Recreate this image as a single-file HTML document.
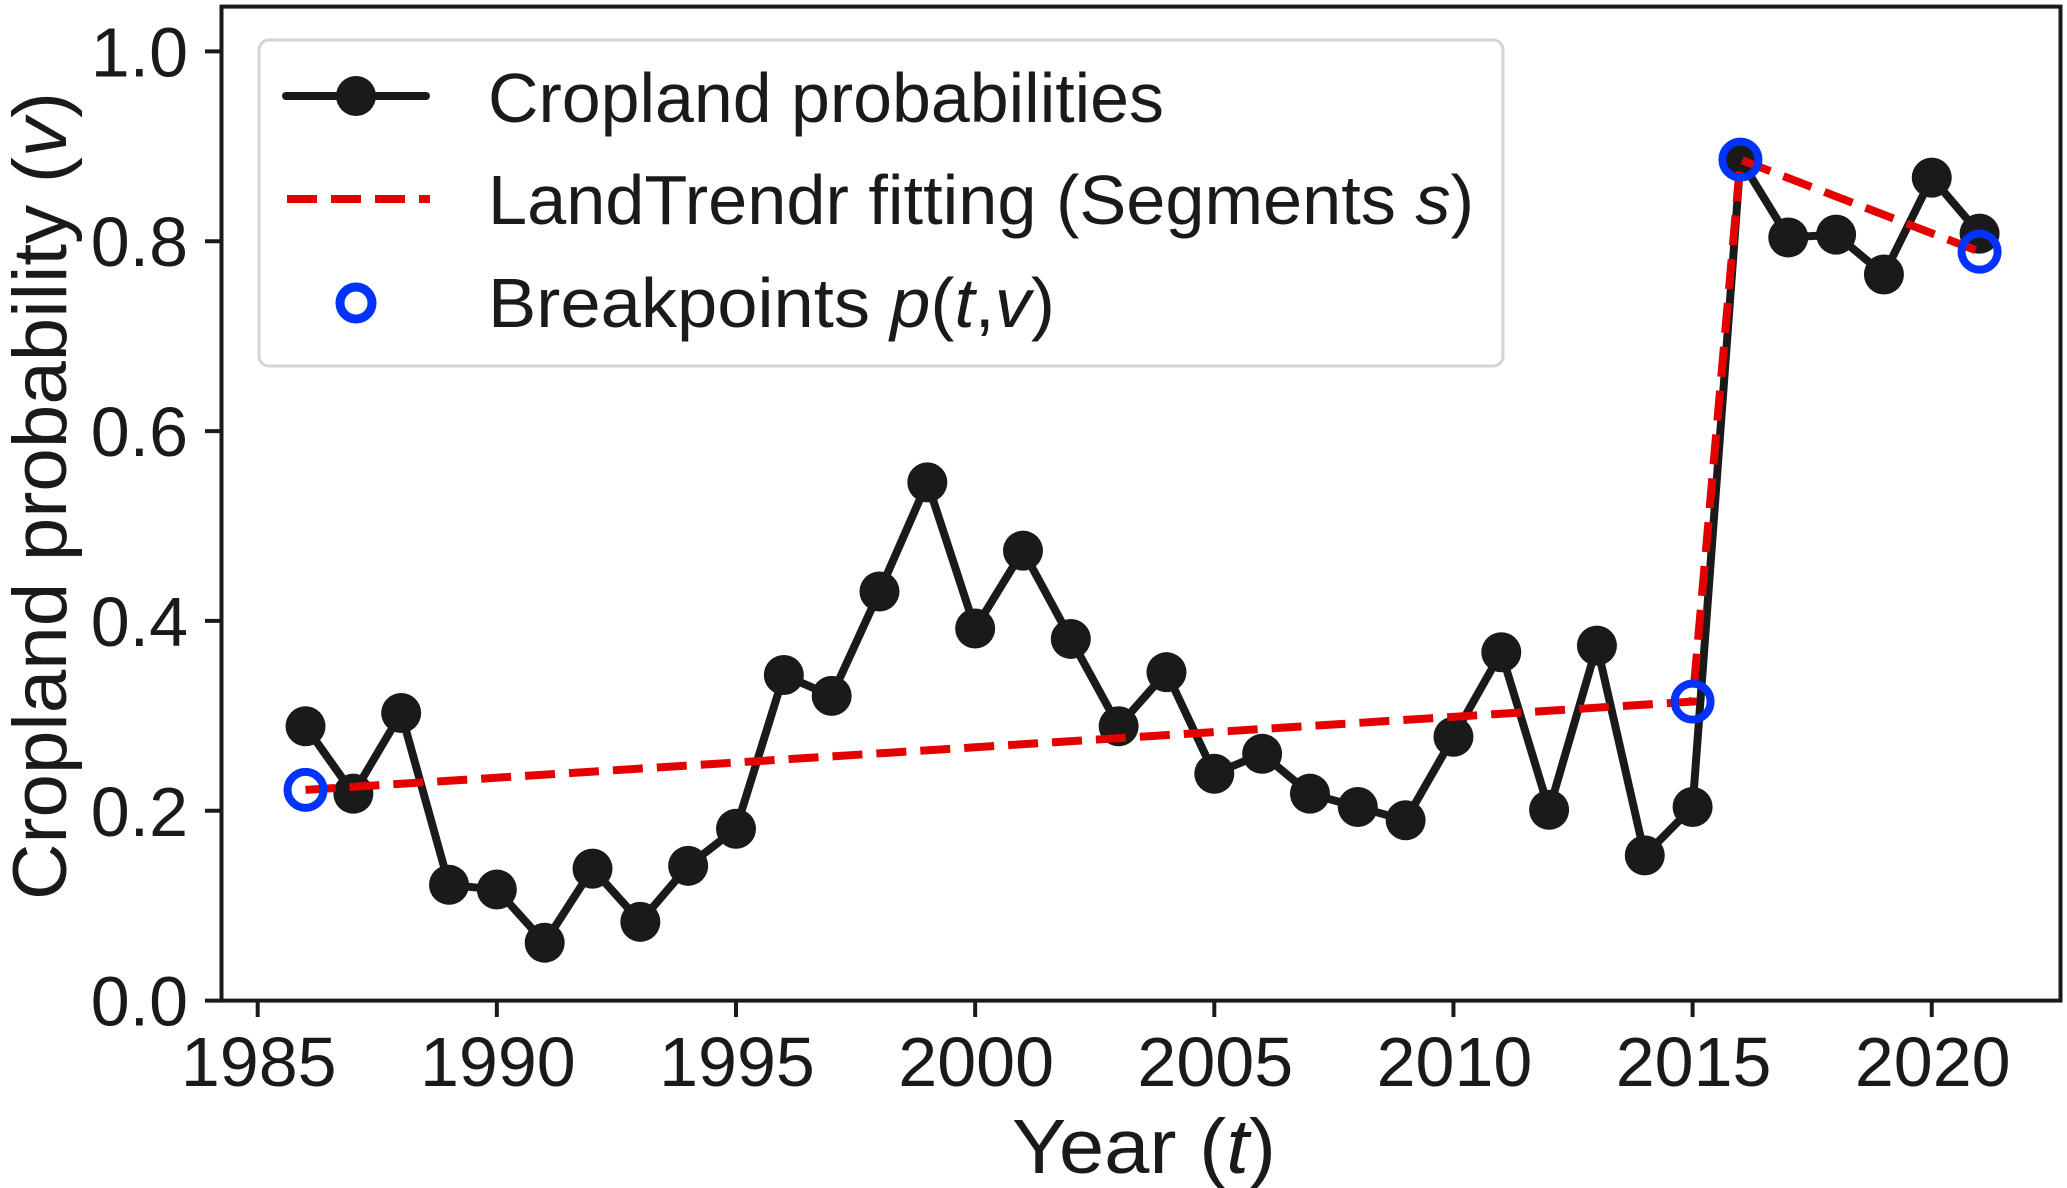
<!DOCTYPE html>
<html><head><meta charset="utf-8"><style>
body{margin:0;background:#fff}
svg{display:block;font-family:"Liberation Sans","DejaVu Sans",sans-serif}
</style></head><body>
<svg id="chart" width="2067" height="1188" viewBox="0 0 2067 1188" xmlns="http://www.w3.org/2000/svg">
<rect x="221.5" y="6.6" width="1839" height="994" fill="none" stroke="#1a1a1a" stroke-width="4"/>
<g id="axes"></g>
<g id="series"></g>
<text transform="translate(66,496) rotate(-90)" text-anchor="middle" font-size="76" textLength="808" lengthAdjust="spacingAndGlyphs" fill="#1a1a1a">Cropland probability (<tspan font-style="italic">v</tspan>)</text>
<text x="1144" y="1173" text-anchor="middle" font-size="77" textLength="264" lengthAdjust="spacingAndGlyphs" fill="#1a1a1a">Year (<tspan font-style="italic">t</tspan>)</text>
<g>
<rect x="259" y="40" width="1244" height="326" rx="10" fill="#fff" stroke="#d4d4d4" stroke-width="3"/>
<g>
<line x1="286" y1="96" x2="426" y2="96" stroke="#1a1a1a" stroke-width="8" stroke-linecap="round"/>
<circle cx="356" cy="96" r="20" fill="#1a1a1a"/>
<text x="488" y="122" font-size="70" textLength="676" lengthAdjust="spacingAndGlyphs" fill="#1a1a1a">Cropland probabilities</text>
</g>
<g>
<line x1="287" y1="199" x2="430" y2="199" stroke="#e50000" stroke-width="8" stroke-dasharray="30,14"/>
<text x="488" y="224" font-size="70" textLength="986" lengthAdjust="spacingAndGlyphs" fill="#1a1a1a">LandTrendr fitting (Segments <tspan font-style="italic">s</tspan>)</text>
</g>
<g>
<circle cx="356" cy="303" r="16" fill="none" stroke="#0033ff" stroke-width="9"/>
<text x="488" y="327" font-size="70" textLength="567" lengthAdjust="spacingAndGlyphs" fill="#1a1a1a">Breakpoints <tspan font-style="italic">p</tspan>(<tspan font-style="italic">t</tspan>,<tspan font-style="italic">v</tspan>)</text>
</g>
</g>
</svg>
<script>
const years=[1986,1987,1988,1989,1990,1991,1992,1993,1994,1995,1996,1997,1998,1999,2000,2001,2002,2003,2004,2005,2006,2007,2008,2009,2010,2011,2012,2013,2014,2015,2016,2017,2018,2019,2020,2021];
const probs=[0.289,0.218,0.303,0.122,0.117,0.061,0.139,0.083,0.142,0.181,0.343,0.321,0.431,0.546,0.392,0.474,0.381,0.289,0.346,0.239,0.26,0.218,0.204,0.19,0.278,0.367,0.201,0.374,0.153,0.204,0.886,0.804,0.807,0.765,0.867,0.808];
const bpYears=[1986,2015,2016,2021];
const bpVals=[0.222,0.315,0.886,0.789];
const xTicks=[1985,1990,1995,2000,2005,2010,2015,2020];
const yTicks=[0.0,0.2,0.4,0.6,0.8,1.0];
const yTickLabels=["0.0","0.2","0.4","0.6","0.8","1.0"];

const NS="http://www.w3.org/2000/svg";
function X(t){return 257.7+(t-1985)*47.83;}
function Y(v){return 1000.6-v*949.2;}
function mk(tag,attrs,parent){const e=document.createElementNS(NS,tag);for(const k in attrs)e.setAttribute(k,attrs[k]);parent.appendChild(e);return e;}
const axes=document.getElementById('axes'),series=document.getElementById('series');
xTicks.forEach(t=>{
  const l=mk('line',{x1:X(t),x2:X(t),y1:1000.6,y2:1017,stroke:'#1a1a1a','stroke-width':4},axes);
  
  
  const tx=mk('text',{x:X(t)+1,y:1086,'text-anchor':'middle','font-size':70,fill:'#1a1a1a'},axes);
  tx.textContent=t;
  
  
});
yTicks.forEach((v,i)=>{
  const l=mk('line',{x1:205,x2:221.5,y1:Y(v),y2:Y(v),stroke:'#1a1a1a','stroke-width':4},axes);
  
  
  const tx=mk('text',{x:188,y:Y(v)+25,'text-anchor':'end','font-size':70,fill:'#1a1a1a'},axes);
  tx.textContent=yTickLabels[i];
  
  
});
const pl=mk('polyline',{points:years.map((t,i)=>X(t)+','+Y(probs[i])).join(' '),fill:'none',stroke:'#1a1a1a','stroke-width':8,'stroke-linejoin':'round'},series);


years.forEach((t,i)=>{
  const c=mk('circle',{cx:X(t),cy:Y(probs[i]),r:20,fill:'#1a1a1a'},series);
  
  
});
const fl=mk('polyline',{points:bpYears.map((t,i)=>X(t)+','+Y(bpVals[i])).join(' '),fill:'none',stroke:'#e50000','stroke-width':8,'stroke-dasharray':'30,14'},series);


bpYears.forEach((t,i)=>{
  const c=mk('circle',{cx:X(t),cy:Y(bpVals[i]),r:18,fill:'none',stroke:'#0033ff','stroke-width':8},series);
  
  
});
</script>
</body></html>
